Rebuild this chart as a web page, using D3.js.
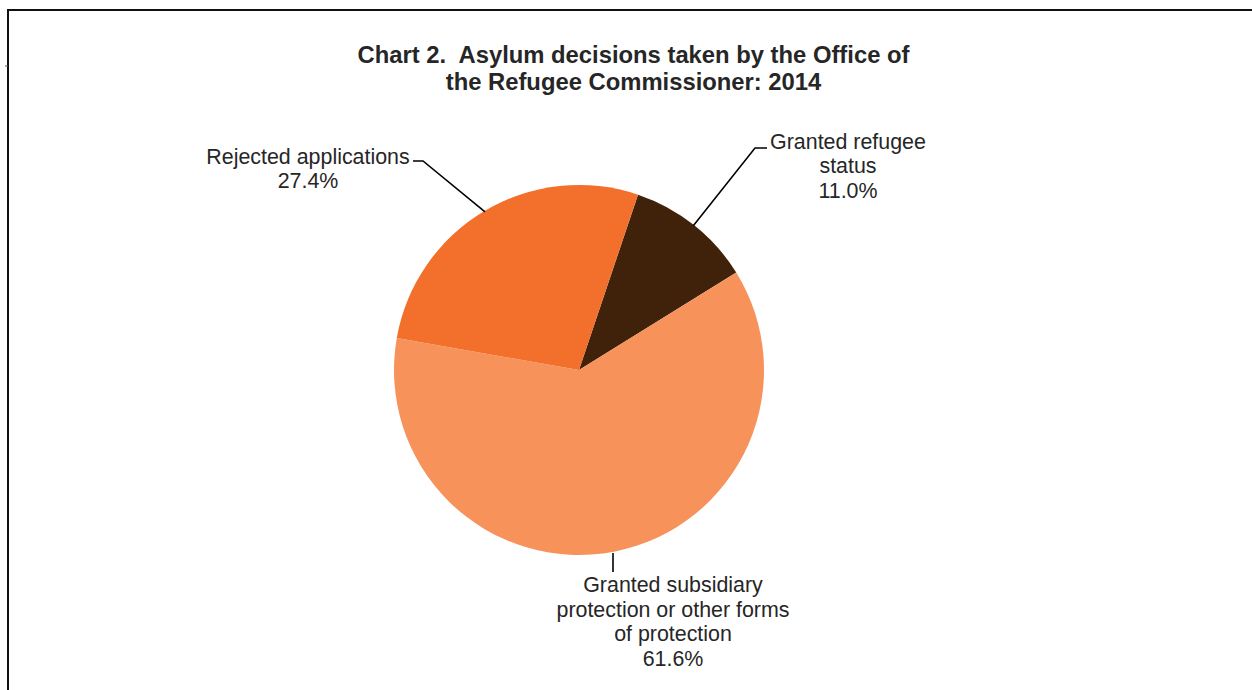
<!DOCTYPE html>
<html>
<head>
<meta charset="utf-8">
<script src="https://cdn.jsdelivr.net/npm/d3@7"></script>
<style>
  html, body { margin: 0; padding: 0; background: #fff; }
  svg { display: block; }
  text { font-family: "Liberation Sans", Arial, sans-serif; fill: #262626; white-space: pre; }
</style>
</head>
<body>
<svg id="chart" width="1252" height="690"></svg>
<script>
// Asylum decisions, 2014 (share of all decisions, %)
const categories = ["Granted refugee status", "Granted subsidiary protection or other forms of protection", "Rejected applications"];
const values = [11.0, 61.6, 27.4];
const labelLines = [
  ["Granted refugee", "status"],
  ["Granted subsidiary", "protection or other forms", "of protection"],
  ["Rejected applications"]
];
const colors = ["#40220A", "#F7935A", "#F2702B"];
const titleLines = ["Chart 2.  Asylum decisions taken by the Office of", "the Refugee Commissioner: 2014"];

const svg = d3.select("#chart");
const W = 1252, H = 690;

// frame (top and left edges visible)
svg.append("path")
  .attr("d", `M8,${H + 2} L8,10 L${W + 2},10`)
  .attr("fill", "none").attr("stroke", "#111").attr("stroke-width", 2);
svg.append("line").attr("x1", 5).attr("x2", 8).attr("y1", 66).attr("y2", 66)
  .attr("stroke", "#555").attr("stroke-width", 1);

// title
const title = svg.append("text").attr("text-anchor", "middle")
  .attr("xml:space", "preserve")
  .attr("font-weight", "bold").attr("font-size", 23.8);
titleLines.forEach((t, i) => {
  title.append("tspan").attr("x", 633.5).attr("y", 62.5 + i * 27).text(t);
});

// pie
const cx = 579, cy = 370, r = 185;
const startDeg = 18.6;
const pie = d3.pie().sort(null).value(d => d)
  .startAngle(startDeg * Math.PI / 180)
  .endAngle((startDeg + 360) * Math.PI / 180);
const arcs = pie(values);
const arc = d3.arc().innerRadius(0).outerRadius(r);

const g = svg.append("g").attr("transform", `translate(${cx},${cy})`);
g.selectAll("path.slice").data(arcs).join("path")
  .attr("class", "slice")
  .attr("d", arc)
  .attr("fill", (d, i) => colors[i]);

// point on the rim at a given angle (d3 convention: 0 at top, clockwise)
const rim = (a, rr) => [cx + rr * Math.sin(a), cy - rr * Math.cos(a)];

// leader lines and labels
const fmt = d3.format(".1f");
const labelSpecs = [
  // granted refugee status
  { anchor: [848, 148.5], elbow: [755, 148], end: [767, 148], lh: 24.5 },
  // subsidiary protection
  { anchor: [673, 592], elbow: null, end: [613, 572], lh: 24.5 },
  // rejected
  { anchor: [308, 164], elbow: [423, 161], end: [413, 161], lh: 23.5 }
];

arcs.forEach((d, i) => {
  const spec = labelSpecs[i];
  const mid = (d.startAngle + d.endAngle) / 2;
  const p0 = rim(mid, r - 1);
  let pts;
  if (spec.elbow) {
    pts = [p0, spec.elbow, spec.end];
  } else {
    pts = [[spec.end[0], cy + r - 2], spec.end];
  }
  svg.append("path")
    .attr("d", d3.line()(pts))
    .attr("fill", "none").attr("stroke", "#000").attr("stroke-width", 1.6);

  const t = svg.append("text").attr("text-anchor", "middle").attr("font-size", 21.4);
  const lines = labelLines[i].concat([fmt(values[i]) + "%"]);
  lines.forEach((s, j) => {
    t.append("tspan").attr("x", spec.anchor[0]).attr("y", spec.anchor[1] + j * spec.lh).text(s);
  });
});
</script>
</body>
</html>
